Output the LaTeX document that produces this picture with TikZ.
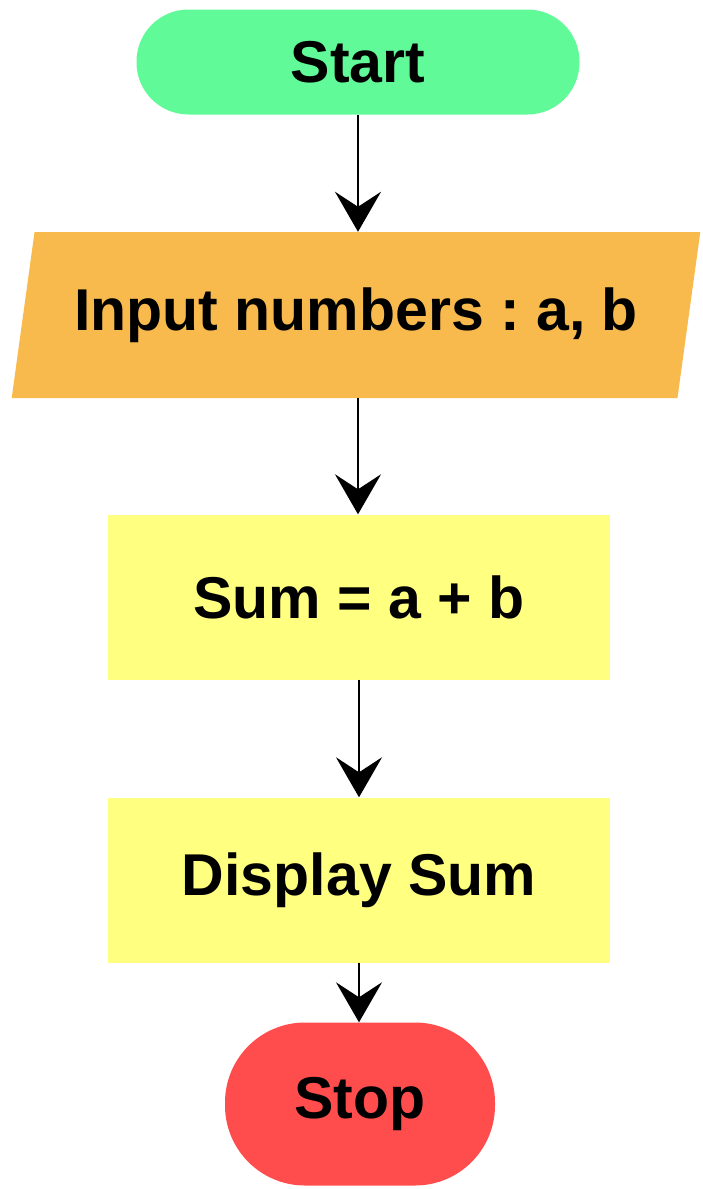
\documentclass[tikz,border=0pt]{standalone}
\usepackage{fontspec}
\setmainfont{Liberation Sans}
\usetikzlibrary{arrows.meta,shapes.geometric}
\frenchspacing
\definecolor{StartClr}{RGB}{96,250,152}
\definecolor{InputClr}{RGB}{248,186,76}
\definecolor{ProcClr}{RGB}{255,255,128}
\definecolor{StopClr}{RGB}{255,77,77}
\tikzset{
  Txt/.style={font=\fontsize{59}{66}\selectfont\bfseries,text=black,inner sep=0pt},
  ProcBox/.style={Txt,fill=ProcClr,minimum width=502pt,minimum height=165pt},
  Flow/.style={line width=2pt,-{Stealth[length=40pt,width=46pt,inset=15pt]}}
}

\begin{document}
\begin{tikzpicture}[x=1pt,y=-1pt]
\useasboundingbox (0,0) rectangle (702,1189);

\node[Txt,fill=StartClr,rounded corners=52pt,minimum width=443pt,minimum height=105pt] (Start) at (358,62) {Start};
\node[Txt,trapezium,trapezium left angle=70,trapezium right angle=110,trapezium stretches=true,
      fill=InputClr,minimum width=692pt,minimum height=166pt] (Input) at (356,315) {Input numbers : a, b};
\node[ProcBox] (Sum) at (359,597) {Sum = a + b};
\node[ProcBox] (Show) at (359,880) {Display Sum};
\node[Txt,fill=StopClr,rounded corners=80pt,minimum width=270pt,minimum height=163pt] (Stop) at (360,1104) {Stop};

\draw[Flow] (Start) -- (Start |- Input.north);
\draw[Flow] (Input.south -| Start) -- (Start |- Sum.north);
\draw[Flow] (Sum) -- (Show);
\draw[Flow] (Show) -- (Show |- Stop.north);

\end{tikzpicture}
\end{document}
